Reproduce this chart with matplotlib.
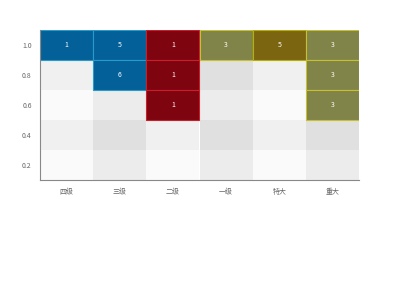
import matplotlib
matplotlib.use("Agg")
import matplotlib.pyplot as plt
from matplotlib.patches import Rectangle

plt.rcParams['font.family'] = ['Noto Sans CJK SC', 'DejaVu Sans']

categories = ['四级', '三级', '二级', '一级', '特大', '重大']
y_levels = [0.2, 0.4, 0.6, 0.8, 1.0]

# highlighted cells: category, y level, count
cell_cats = ['四级', '三级', '三级', '二级', '二级', '二级', '一级', '特大', '重大', '重大', '重大']
cell_ys = [1.0, 1.0, 0.8, 1.0, 0.8, 0.6, 1.0, 1.0, 1.0, 0.8, 0.6]
cell_counts = [1, 5, 6, 1, 1, 1, 3, 5, 3, 3, 3]

# style per cell (fill, edge)
cell_styles = [
    ('#036099', '#2a9ac8'), ('#036099', '#2a9ac8'), ('#036099', '#2a9ac8'),
    ('#7e0410', '#c8202a'), ('#7e0410', '#c8202a'), ('#7e0410', '#c8202a'),
    ('#808448', '#c8c030'), ('#7b6510', '#b8b000'),
    ('#808448', '#c8c030'), ('#808448', '#c8c030'), ('#808448', '#c8c030'),
]

fig = plt.figure(figsize=(4, 3), dpi=100)
ax = fig.add_axes([0.1, 0.4, 0.7975, 0.5])

dy = y_levels[1] - y_levels[0]
# background shading
for i, c in enumerate(categories):
    for j, y in enumerate(y_levels):
        odd_col = i % 2 == 1
        dark_row = (len(y_levels) - 1 - j) % 2 == 1
        if odd_col:
            col = '#e0e0e0' if dark_row else '#ececec'
        else:
            col = '#f0f0f0' if dark_row else '#fafafa'
        ax.add_patch(Rectangle((i - 0.5, y - dy / 2), 1, dy, facecolor=col,
                               edgecolor='none', zorder=1))

for c, y, n, (fc, ec) in zip(cell_cats, cell_ys, cell_counts, cell_styles):
    i = categories.index(c)
    ax.add_patch(Rectangle((i - 0.5, y - dy / 2), 1, dy, facecolor=fc,
                           edgecolor=ec, linewidth=0.8, zorder=2))
    ax.text(i, y, str(n), ha='center', va='center', color='white',
            fontsize=5, zorder=3)

ax.set_xlim(-0.5, len(categories) - 0.5)
ax.set_ylim(y_levels[0] - dy / 2, y_levels[-1] + dy / 2)
ax.set_xticks(range(len(categories)))
ax.set_xticklabels(categories)
ax.set_yticks(y_levels)
ax.set_yticklabels([f'{v:.1f}' for v in y_levels])
ax.tick_params(axis='both', length=0, labelsize=5, colors='#666666', pad=6)
for s in ['top', 'right']:
    ax.spines[s].set_visible(False)
for s in ['left', 'bottom']:
    ax.spines[s].set_color('#888888')
    ax.spines[s].set_linewidth(0.8)
    ax.spines[s].set_zorder(4)

fig.savefig('out.png', dpi=100, facecolor='white')
